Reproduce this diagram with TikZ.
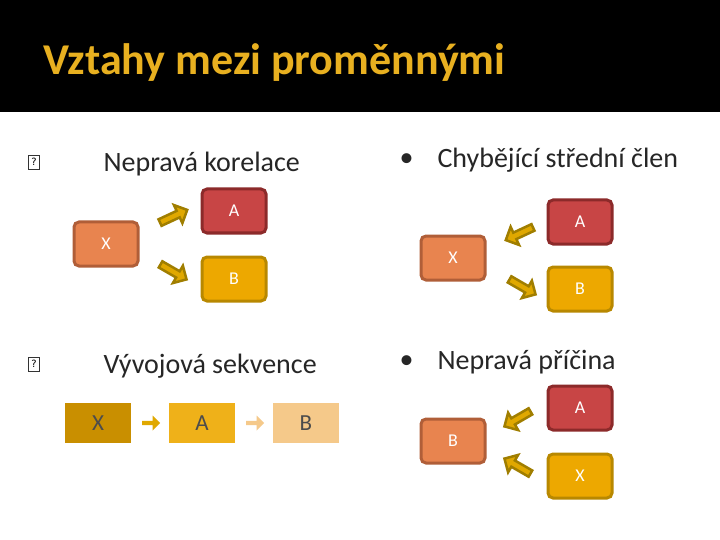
\documentclass[tikz,border=0pt]{standalone}
\usepackage{fontspec}
\setmainfont{Carlito}
\newfontfamily\djv{DejaVu Sans}
\usetikzlibrary{shapes.arrows}
\definecolor{ttl}{HTML}{E8B020}
\definecolor{ofill}{HTML}{E8844F}\definecolor{odraw}{HTML}{B05E38}
\definecolor{rfill}{HTML}{C84545}\definecolor{rdraw}{HTML}{8C2A2A}
\definecolor{yfill}{HTML}{EDA800}\definecolor{ydraw}{HTML}{B88800}
\definecolor{afill}{HTML}{E0A800}\definecolor{adraw}{HTML}{A07E00}
\definecolor{pale}{HTML}{F5C98A}
\tikzset{
 bx/.style={rounded corners=5pt, line width=3pt, minimum width=64pt, minimum height=44pt, text=white, font=\fontsize{18}{18}\selectfont},
 obx/.style={bx, draw=odraw, fill=ofill},
 rbx/.style={bx, draw=rdraw, fill=rfill},
 ybx/.style={bx, draw=ydraw, fill=yfill},
 barr/.style={single arrow, draw=adraw, fill=afill, line width=2.5pt, minimum height=30pt, minimum width=20pt, single arrow head extend=4pt, inner sep=1pt},
 sarr/.style={single arrow, fill=afill, minimum height=18pt, minimum width=15pt, single arrow head extend=3pt, inner sep=1pt},
 cbx/.style={minimum width=66pt, minimum height=40pt, text=black!70, font=\fontsize{23}{23}\selectfont},
 lbl/.style={anchor=west, font=\fontsize{28}{28}\selectfont, text=black!85},
 qm/.style={draw=black!80, line width=0.8pt, minimum width=11pt, minimum height=14pt, inner sep=0pt, font=\djv\fontsize{10}{10}\selectfont},
}
\begin{document}
\begin{tikzpicture}[x=1pt,y=-1pt]
\useasboundingbox (0,0) rectangle (720,540);
\fill[white] (0,0) rectangle (720,540);
\fill[black] (0,0) rectangle (720,112);
\node[anchor=west, text=ttl, font=\fontsize{44}{44}\selectfont\bfseries] (title) at (40,63) {Vztahy mezi proměnnými};
% labels
\node[qm] (q1) at (34,162) {?};
\node[lbl] (t1) at (100,164) {Nepravá korelace};
\node[lbl] (b2) at (396,160) {•};
\node[lbl] (t2) at (434,160) {Chybějící střední člen};
\node[qm] (q3) at (34,364) {?};
\node[lbl] (t3) at (100,366) {Vývojová sekvence};
\node[lbl] (b4) at (396,362) {•};
\node[lbl] (t4) at (434,362) {Nepravá příčina};
% group 1
\node[obx] (x1) at (106,244) {X};
\node[rbx] (a1) at (234,211) {A};
\node[ybx] (b1) at (234,279) {B};
\node[barr, rotate=25] (ar1) at (172,217) {};
\node[barr, rotate=-30] (ar2) at (172,271) {};
% group 2
\node[rbx] (a2) at (580,222) {A};
\node[obx] (x2) at (453,258) {X};
\node[ybx] (b2b) at (580,289) {B};
\node[barr, rotate=-155] (ar3) at (521,233) {};
\node[barr, rotate=-30] (ar4) at (521,286) {};
% group 3
\node[cbx, fill=yfill!85!black] (x3) at (98,423) {X};
\node[cbx, fill=yfill!90] (a3) at (202,423) {A};
\node[cbx, fill=pale] (b3) at (306,423) {B};
\node[sarr] (s1) at (150,423) {};
\node[sarr, fill=pale] (s2) at (254,423) {};
% group 4
\node[obx] (b4b) at (453,441) {B};
\node[rbx] (a4) at (580,408) {A};
\node[ybx] (x4) at (580,476) {X};
\node[barr, rotate=-150] (ar5) at (519,418) {};
\node[barr, rotate=150] (ar6) at (519,467) {};
\end{tikzpicture}
\end{document}
